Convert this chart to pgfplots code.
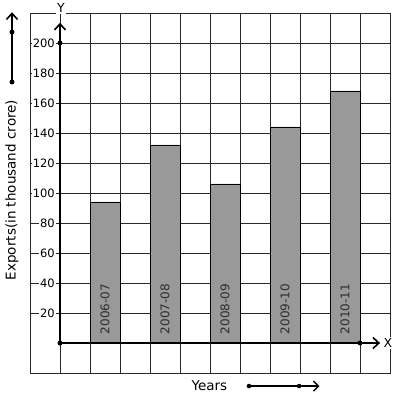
\documentclass[border=0pt]{standalone}
\usepackage{fontspec}
\setmainfont{DejaVu Sans}
\usepackage{pgfplots}
\pgfplotsset{compat=1.18}
\usetikzlibrary{arrows.meta}
\definecolor{bargray}{RGB}{153,153,153}
\definecolor{gridc}{RGB}{40,40,40}
\definecolor{labc}{RGB}{45,45,45}
\tikzset{barlab/.style={rotate=90, anchor=west, text=labc, font=\fontsize{12}{14}\selectfont}}
\begin{document}
\begin{tikzpicture}[font=\fontsize{11.5}{13}\selectfont]
\begin{axis}[
  scale only axis, width=360pt, height=360pt,
  xmin=-1, xmax=11, ymin=-20, ymax=220,
  xtick={0,...,10}, xticklabels={},
  ytick={20,40,...,200},
  /pgf/number format/assume math mode=true,
  major tick length=0pt,
  grid=major,
  major grid style={gridc, line width=0.9pt},
  axis line style={gridc, line width=0.9pt},
  yticklabel style={anchor=east, xshift=26pt, fill=white, inner sep=1pt, text=black},
  clip=false,
]
\addplot[ybar, bar width=1, fill=bargray, draw=black, line width=0.8pt]
  coordinates {(1.5,94) (3.5,132) (5.5,106) (7.5,144) (9.5,168)};
% axes
\draw[line width=2pt, -{Straight Barb[length=6pt,width=11pt,line width=1.6pt]}] (axis cs:0,0) -- (axis cs:0,213.5);
\fill (axis cs:0,200) circle (2.5pt);
\draw[line width=2pt, -{Straight Barb[length=6pt,width=11pt,line width=1.6pt]}] (axis cs:0,0) -- (axis cs:10.67,0);
\fill (axis cs:10,0) circle (2.5pt);
\fill (axis cs:0,0) circle (2.5pt);
\node[fill=white, inner sep=1pt, font=\fontsize{12.5}{14}\selectfont] at (axis cs:0.03,223.3) {Y};
\node[fill=white, inner sep=1pt, font=\fontsize{12.5}{14}\selectfont] at (axis cs:10.93,0) {X};
% left arrow
\draw[line width=2pt, -{Straight Barb[length=6pt,width=11pt,line width=1.6pt]}] (axis cs:-1.6,174) -- (axis cs:-1.6,220.5);
\fill (axis cs:-1.6,174) circle (2.5pt);
\fill (axis cs:-1.6,207.3) circle (2.5pt);
\node[rotate=90, font=\fontsize{13.5}{15}\selectfont] at (axis cs:-1.6,102) {Exports(in thousand crore)};
% bottom
\node[font=\fontsize{13.5}{15}\selectfont] at (axis cs:4.98,-28.7) {Years};
\draw[line width=1.6pt, -{Straight Barb[length=5pt,width=10pt,line width=1.4pt]}] (axis cs:6.3,-28.7) -- (axis cs:8.65,-28.7);
\fill (axis cs:6.3,-28.7) circle (2.3pt);
\fill (axis cs:7.97,-28.7) circle (2.3pt);
% bar labels
\node[barlab] at (axis cs:1.5,3.5) {2006-07};
\node[barlab] at (axis cs:3.5,3.5) {2007-08};
\node[barlab] at (axis cs:5.5,3.5) {2008-09};
\node[barlab] at (axis cs:7.5,3.5) {2009-10};
\node[barlab] at (axis cs:9.5,3.5) {2010-11};
% bounding box
\path (axis cs:-2,-37.333) rectangle (axis cs:11.233,228.667);
\end{axis}
\end{tikzpicture}
\end{document}
